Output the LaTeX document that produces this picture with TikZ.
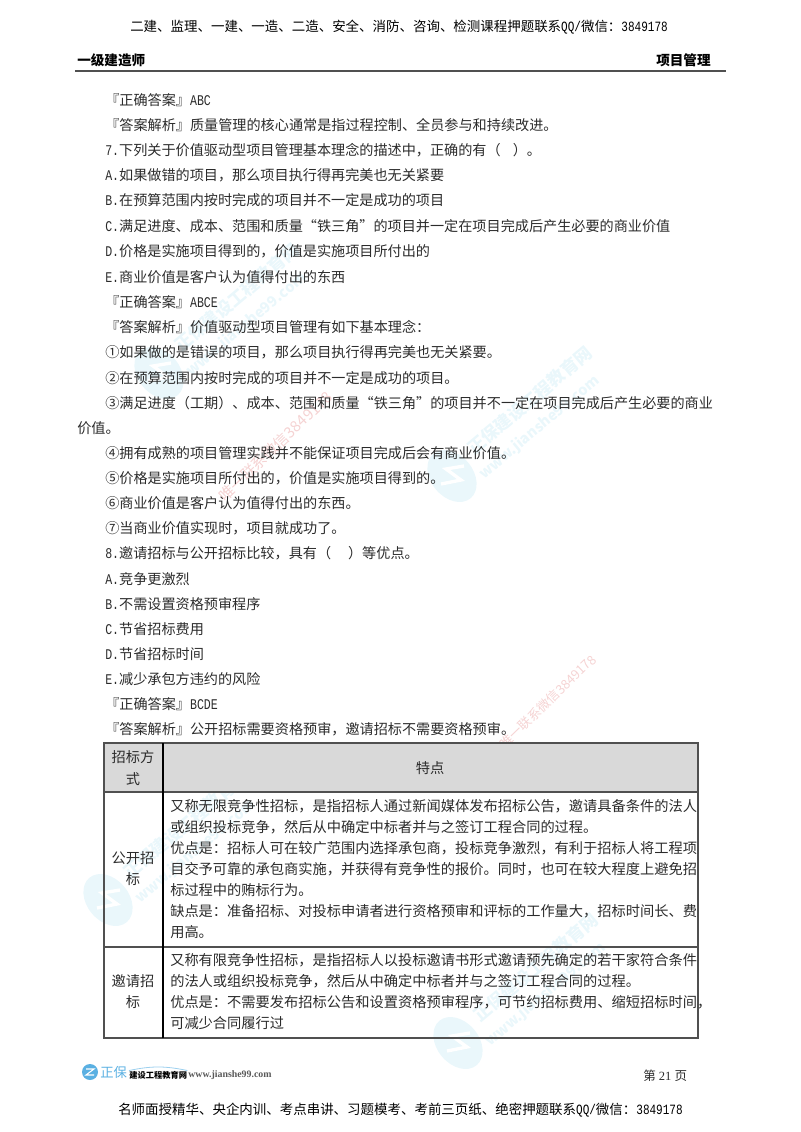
\documentclass[tikz,border=0pt]{standalone}
\usepackage{fontspec}
\setmainfont{Noto Sans CJK SC}
\newfontfamily\lat{Liberation Mono}[Scale=1.05, FakeStretch=0.78]
\newfontfamily\ser{Liberation Serif}
\definecolor{inkcol}{HTML}{2B2B2B}
\definecolor{rulecol}{HTML}{505050}
\definecolor{headcol}{HTML}{D9D9D9}
\definecolor{markblue}{HTML}{EAF7FB}
\definecolor{markpink}{HTML}{F5D3D3}
\definecolor{logoblue}{HTML}{5AB0E2}
\tikzset{
	bodyline/.style = {anchor = base west, inner sep = 0, text = inkcol, font = \fontsize{10.6pt}{13pt}\selectfont},
	tableline/.style = {anchor = base west, inner sep = 0, text = inkcol, font = \fontsize{10.68pt}{13pt}\selectfont},
	cellline/.style = {anchor = base, inner sep = 0, text = inkcol, font = \fontsize{10.68pt}{13pt}\selectfont},
	pageline/.style = {anchor = base west, inner sep = 0, text = black, font = \fontsize{10.1pt}{13pt}\selectfont},
	pagehead/.style = {anchor = base west, inner sep = 0, text = black, font = \fontsize{10.2pt}{13pt}\bfseries\selectfont},
	marktext/.style = {anchor = base west, inner sep = 0, rotate = 40, text = markblue, font = \fontsize{13pt}{14pt}\bfseries\selectfont},
	markurl/.style = {anchor = base west, inner sep = 0, rotate = 40, text = markblue, font = \fontsize{11pt}{14pt}\bfseries\selectfont},
	pinkmark/.style = {anchor = base west, inner sep = 0, rotate = 44, text = markpink}
}
\newcommand{\wmark}[3]{
	\fill[markblue, rotate around = {40:(#2, #3)}] (#2, #3) ellipse (21 and 29);
	\draw[white, line width = 2.5pt] (#2 - 11, #3 + 8) -- (#2 + 9, #3 + 4) -- (#2 - 6, #3 - 7) -- (#2 + 12, #3 - 10);
	\node[marktext] (#1text) at (#2 + 22, #3 - 20) {正保建设工程教育网};
	\node[markurl] (#1url) at (#2 + 32, #3 + 4) {www.jianshe99.com};
}
\begin{document}
\begin{tikzpicture}[x = 0.75pt, y = -0.75pt]
	\useasboundingbox (0, 0) rectangle (800, 1132);
	% watermarks sit below the text
	\wmark{markA}{452}{476}
	\wmark{markB}{159}{373}
	\wmark{markC}{108}{900}
	\wmark{markD}{458}{1043}
	\node[pinkmark, font = \fontsize{11.4pt}{14pt}\selectfont] (pinkA) at (225, 503) {唯一联系微信3849178};
	\node[pinkmark, font = \fontsize{9.7pt}{12pt}\selectfont] (pinkB) at (505, 750) {唯一联系微信3849178};

	% page head
	\node[pageline] (headline) at (130, 31) {二建、监理、一建、一造、二造、安全、消防、咨询、检测课程押题联系{\lat QQ/}微信：{\lat 3849178}};
	\node[pagehead] (headleft) at (77, 65) {一级建造师};
	\node[pagehead] (headright) at (656, 65) {项目管理};
	\draw[rulecol, line width = 1.5pt] (75, 71) -- (726, 71);

	% body lines, y of the line centre / text
	\foreach \ty/\tx [count = \n] in {
		100/{『正确答案』{\lat ABC}},
		125/{『答案解析』质量管理的核心通常是指过程控制、全员参与和持续改进。},
		150/{{\lat 7.}下列关于价值驱动型项目管理基本理念的描述中，正确的有（\hspace{0.85em}）。},
		175/{{\lat A.}如果做错的项目，那么项目执行得再完美也无关紧要},
		200/{{\lat B.}在预算范围内按时完成的项目并不一定是成功的项目},
		226/{{\lat C.}满足进度、成本、范围和质量“铁三角”的项目并一定在项目完成后产生必要的商业价值},
		251/{{\lat D.}价格是实施项目得到的，价值是实施项目所付出的},
		277/{{\lat E.}商业价值是客户认为值得付出的东西},
		302/{『正确答案』{\lat ABCE}},
		327/{『答案解析』价值驱动型项目管理有如下基本理念：},
		352/{①如果做的是错误的项目，那么项目执行得再完美也无关紧要。},
		378/{②在预算范围内按时完成的项目并不一定是成功的项目。},
		403/{③满足进度（工期）、成本、范围和质量“铁三角”的项目并不一定在项目完成后产生必要的商业},
		453/{④拥有成熟的项目管理实践并不能保证项目完成后会有商业价值。},
		478/{⑤价格是实施项目所付出的，价值是实施项目得到的。},
		503/{⑥商业价值是客户认为值得付出的东西。},
		528/{⑦当商业价值实现时，项目就成功了。},
		553/{{\lat 8.}邀请招标与公开招标比较，具有（\hspace{1.2em}）等优点。},
		579/{{\lat A.}竞争更激烈},
		604/{{\lat B.}不需设置资格预审程序},
		629/{{\lat C.}节省招标费用},
		654/{{\lat D.}节省招标时间},
		679/{{\lat E.}减少承包方违约的风险},
		704/{『正确答案』{\lat BCDE}},
		729/{『答案解析』公开招标需要资格预审，邀请招标不需要资格预审。}
	}{
		\node[bodyline] (line\n) at (105, \ty + 5) {\tx};
	}
	\node[bodyline] (linewrap) at (77, 433) {价值。};

	% table
	\fill[headcol] (104, 743) rectangle (698, 792);
	\draw[rulecol, line width = 1.3pt] (104, 743) rectangle (698, 1038);
	\draw[rulecol, line width = 1.3pt] (104, 792) -- (698, 792);
	\draw[rulecol, line width = 1.3pt] (104, 947) -- (698, 947);
	\draw[black, line width = 1pt] (163, 743) -- (163, 1038);
	\node[cellline] (headA) at (133, 762) {招标方};
	\node[cellline] (headB) at (133, 784) {式};
	\node[cellline] (headC) at (430, 773) {特点};
	\node[cellline] (openA) at (133, 863) {公开招};
	\node[cellline] (openB) at (133, 884) {标};
	\node[cellline] (inviteA) at (133, 986) {邀请招};
	\node[cellline] (inviteB) at (133, 1007) {标};
	\foreach \ty/\tx [count = \n] in {
		806/{又称无限竞争性招标，是指招标人通过新闻媒体发布招标公告，邀请具备条件的法人},
		827/{或组织投标竞争，然后从中确定中标者并与之签订工程合同的过程。},
		848/{优点是：招标人可在较广范围内选择承包商，投标竞争激烈，有利于招标人将工程项},
		869/{目交予可靠的承包商实施，并获得有竞争性的报价。同时，也可在较大程度上避免招},
		890/{标过程中的贿标行为。},
		911/{缺点是：准备招标、对投标申请者进行资格预审和评标的工作量大，招标时间长、费},
		932/{用高。},
		960/{又称有限竞争性招标，是指招标人以投标邀请书形式邀请预先确定的若干家符合条件},
		981/{的法人或组织投标竞争，然后从中确定中标者并与之签订工程合同的过程。},
		1002/{优点是：不需要发布招标公告和设置资格预审程序，可节约招标费用、缩短招标时间，},
		1023/{可减少合同履行过}
	}{
		\node[tableline] (cell\n) at (170, \ty + 5) {\tx};
	}

	% page foot
	\fill[logoblue] (90, 1072) circle (8);
	\draw[white, line width = 0.8pt] (86, 1069) -- (94, 1069) -- (86, 1075) -- (94, 1075);
	\node[anchor = base west, inner sep = 0, text = logoblue, font = \fontsize{10pt}{12pt}\selectfont] (logoname) at (100, 1077) {正保};
	\node[anchor = base west, inner sep = 0, text = black, font = \fontsize{6.2pt}{8pt}\bfseries\selectfont] (logotext) at (129, 1078) {建设工程教育网};
	\node[anchor = base west, inner sep = 0, text = black!65, font = \ser\fontsize{7.4pt}{8pt}\bfseries\selectfont] (logourl) at (188, 1077) {www.jianshe99.com};
	\draw[logoblue!60, line width = 0.6pt] (logotext.north west) to[bend left = 12] (logotext.north east);
	\node[anchor = base west, inner sep = 0, text = inkcol, font = \ser\fontsize{9.4pt}{12pt}\selectfont] (pageno) at (643, 1080) {{\rmfamily 第} 21 {\rmfamily 页}};
	\node[pageline] (footline) at (118, 1114) {名师面授精华、央企内训、考点串讲、习题模考、考前三页纸、绝密押题联系{\lat QQ/}微信：{\lat 3849178}};
\end{tikzpicture}
\end{document}
